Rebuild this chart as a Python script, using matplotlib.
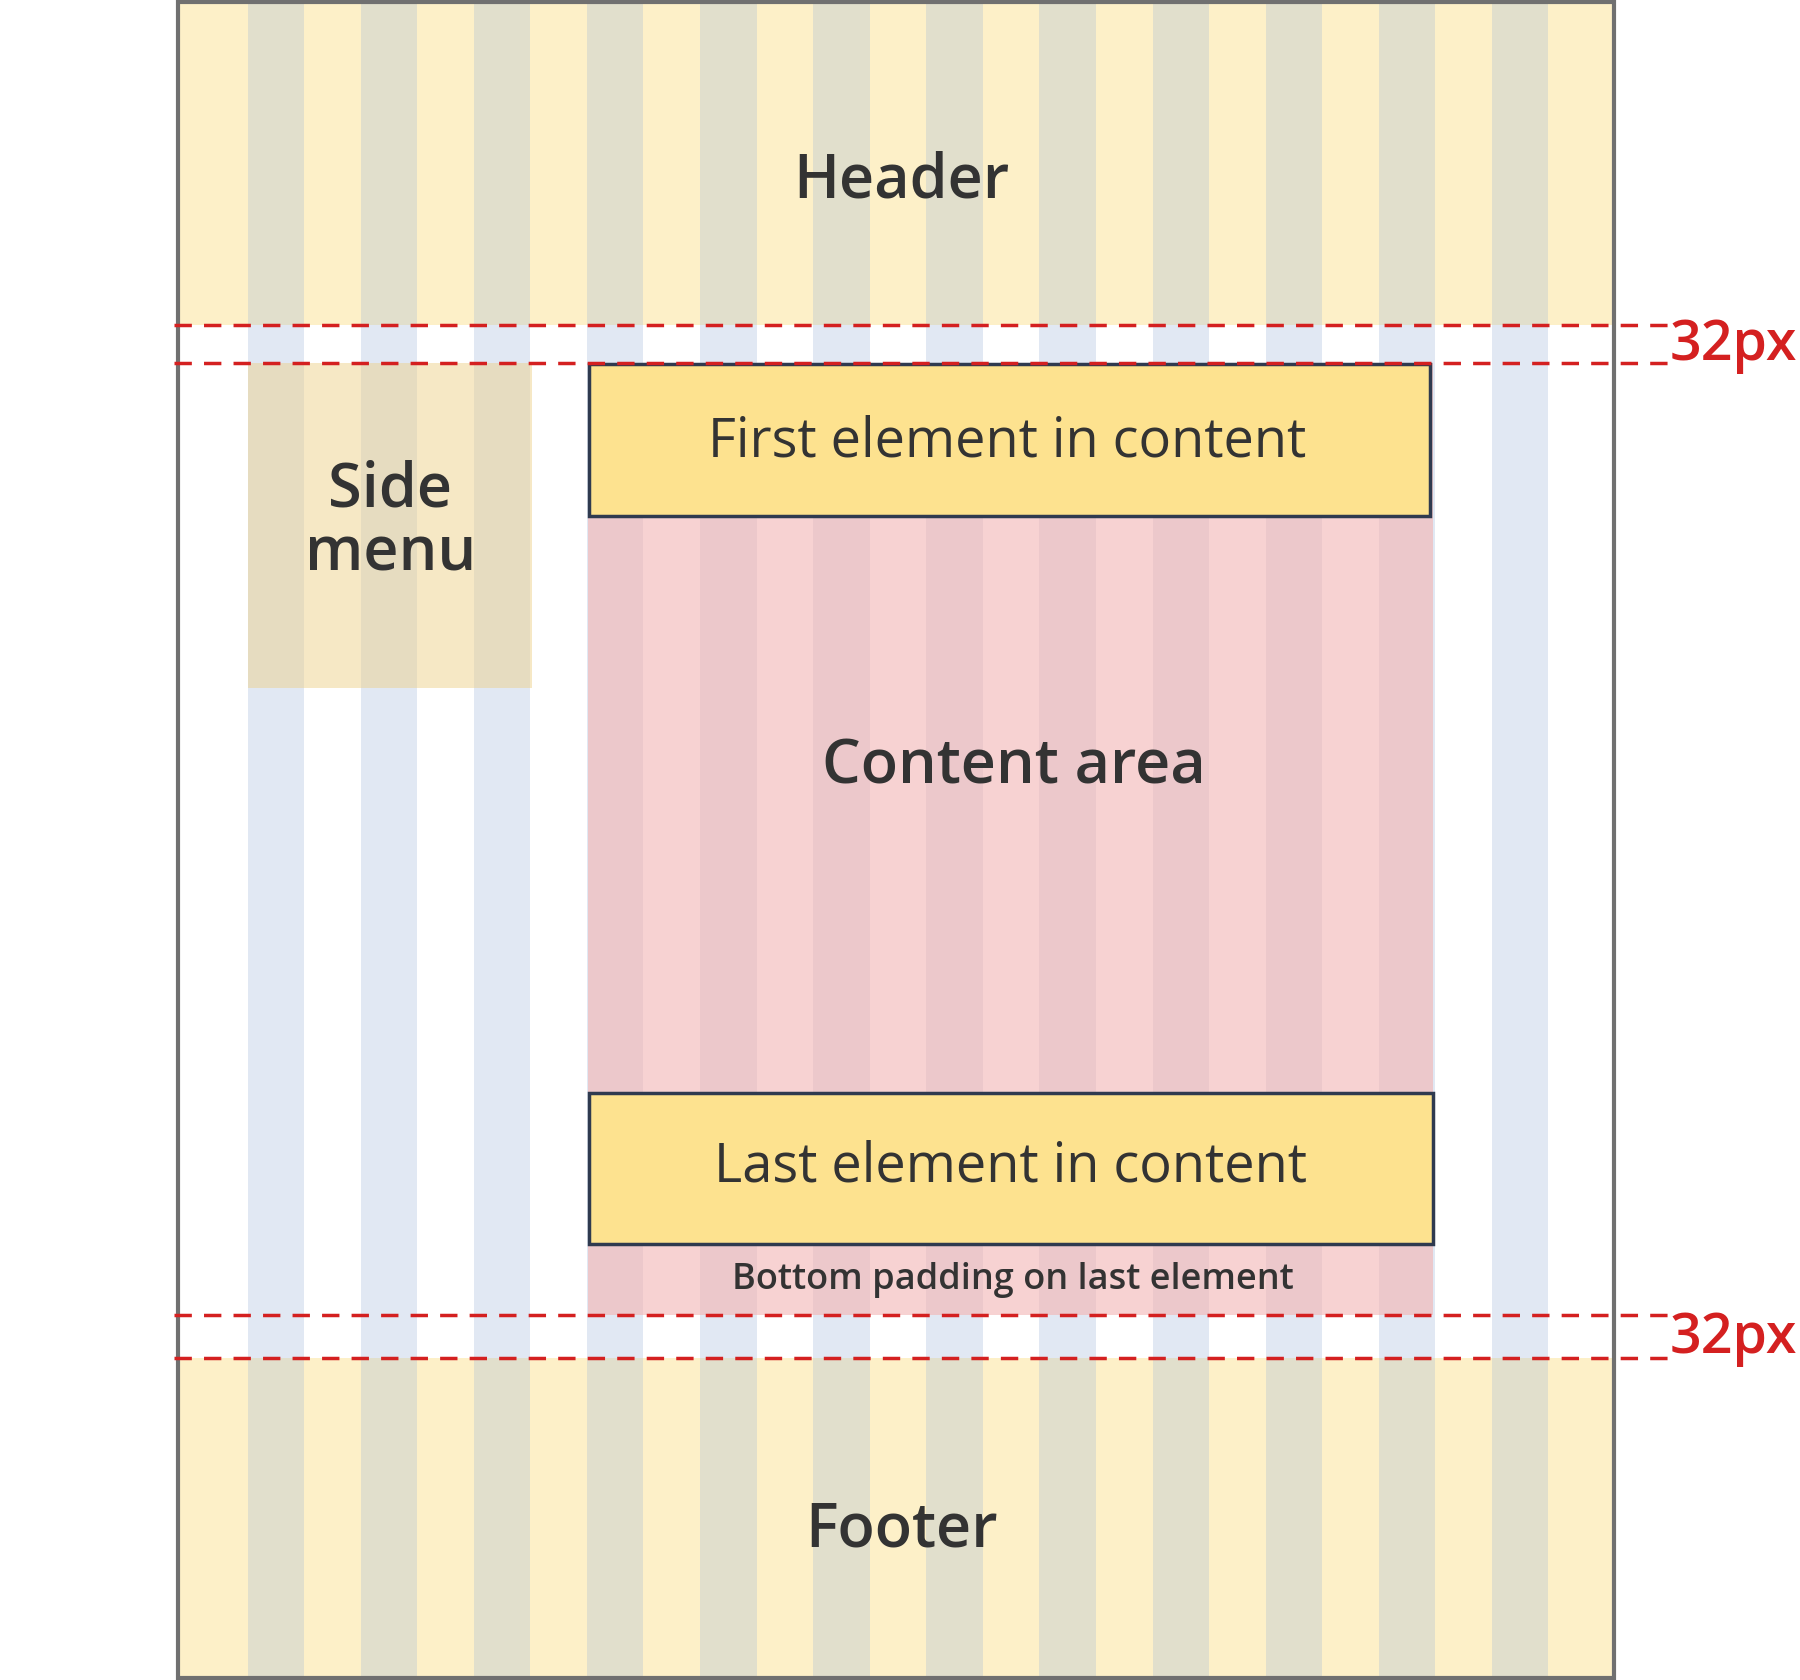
import matplotlib.pyplot as plt
from matplotlib.patches import Rectangle

plt.rcParams['font.family'] = ['Open Sans', 'DejaVu Sans']

# layout in reference pixels (y grows downward)
W, H = 1568, 1463
frame = (155, 2, 1406, 1461)
col_starts = [216 + i * 98.5 for i in range(12)]
col_w = 49
header_bottom = 283
content_top = 316
content_bottom = 1145
footer_top = 1183
side_menu = (216, 316, 463, 599)
content = (512, 316, 1248, 1145)
first_box = (513, 317, 1246, 449)
last_box = (513, 952, 1248, 1083)
dash_ys = [283, 316, 1145, 1183]
gap_labels = ['32px', '32px']

fig = plt.figure(figsize=(18, 16.8), dpi=100)
ax = fig.add_axes([0, 0, 1, 1])
ax.set_xlim(0, W)
ax.set_ylim(H, 0)
ax.axis('off')


def rect(x0, y0, x1, y1, fc, ec='none', lw=0, z=1):
    ax.add_patch(Rectangle((x0, y0), x1 - x0, y1 - y0, facecolor=fc,
                           edgecolor=ec, linewidth=lw, zorder=z))


def band(y0, y1, bg, colc, x0=frame[0], x1=frame[2], z=1):
    rect(x0, y0, x1, y1, bg, z=z)
    for cx in col_starts:
        a, b = max(cx, x0), min(cx + col_w, x1)
        if b > a:
            rect(a, y0, b, y1, colc, z=z)


band(frame[1], header_bottom, '#fdf0c8', '#e1dfcc')
band(header_bottom, footer_top, '#ffffff', '#e1e8f3')
band(footer_top, frame[3], '#fdf0c8', '#e1dfcc')
band(side_menu[1], side_menu[3], '#f6e8c5', '#e6dcc0', side_menu[0], side_menu[2], z=2)
band(content[1], content[3], '#f7d2d2', '#ecc8cb', content[0], content[2], z=2)

for b in (first_box, last_box):
    rect(*b, '#fde28f', ec='#2f3a4f', lw=2.5, z=3)

rect(*frame, 'none', ec='#707070', lw=3, z=4)

for y in dash_ys:
    ax.plot([152, 1455], [y, y], color='#d42020', lw=2.5, ls=(0, (5, 3.5)), zorder=5)
for lab, (ya, yb) in zip(gap_labels, [(283, 316), (1145, 1183)]):
    ax.text(1510, (ya + yb) / 2 + 2, lab, color='#d42020', fontsize=40,
            fontweight='semibold', ha='center', va='center', zorder=6)

dark = '#333333'
ax.text(785, 158, 'Header', fontsize=44, fontweight='semibold', color=dark, ha='center', va='center', zorder=6)
ax.text(340, 455, 'Side\nmenu', fontsize=44, fontweight='semibold', color=dark, ha='center', va='center',
        linespacing=1.05, zorder=6)
ax.text(883, 668, 'Content area', fontsize=44, fontweight='semibold', color=dark, ha='center', va='center', zorder=6)
ax.text(877, 385, 'First element in content', fontsize=39, color=dark, ha='center', va='center', zorder=6)
ax.text(880, 1016, 'Last element in content', fontsize=39, color=dark, ha='center', va='center', zorder=6)
ax.text(882, 1115, 'Bottom padding on last element', fontsize=26, fontweight='semibold', color=dark,
        ha='center', va='center', zorder=6)
ax.text(785, 1333, 'Footer', fontsize=44, fontweight='semibold', color=dark, ha='center', va='center', zorder=6)

fig.savefig('out.png', dpi=100)
